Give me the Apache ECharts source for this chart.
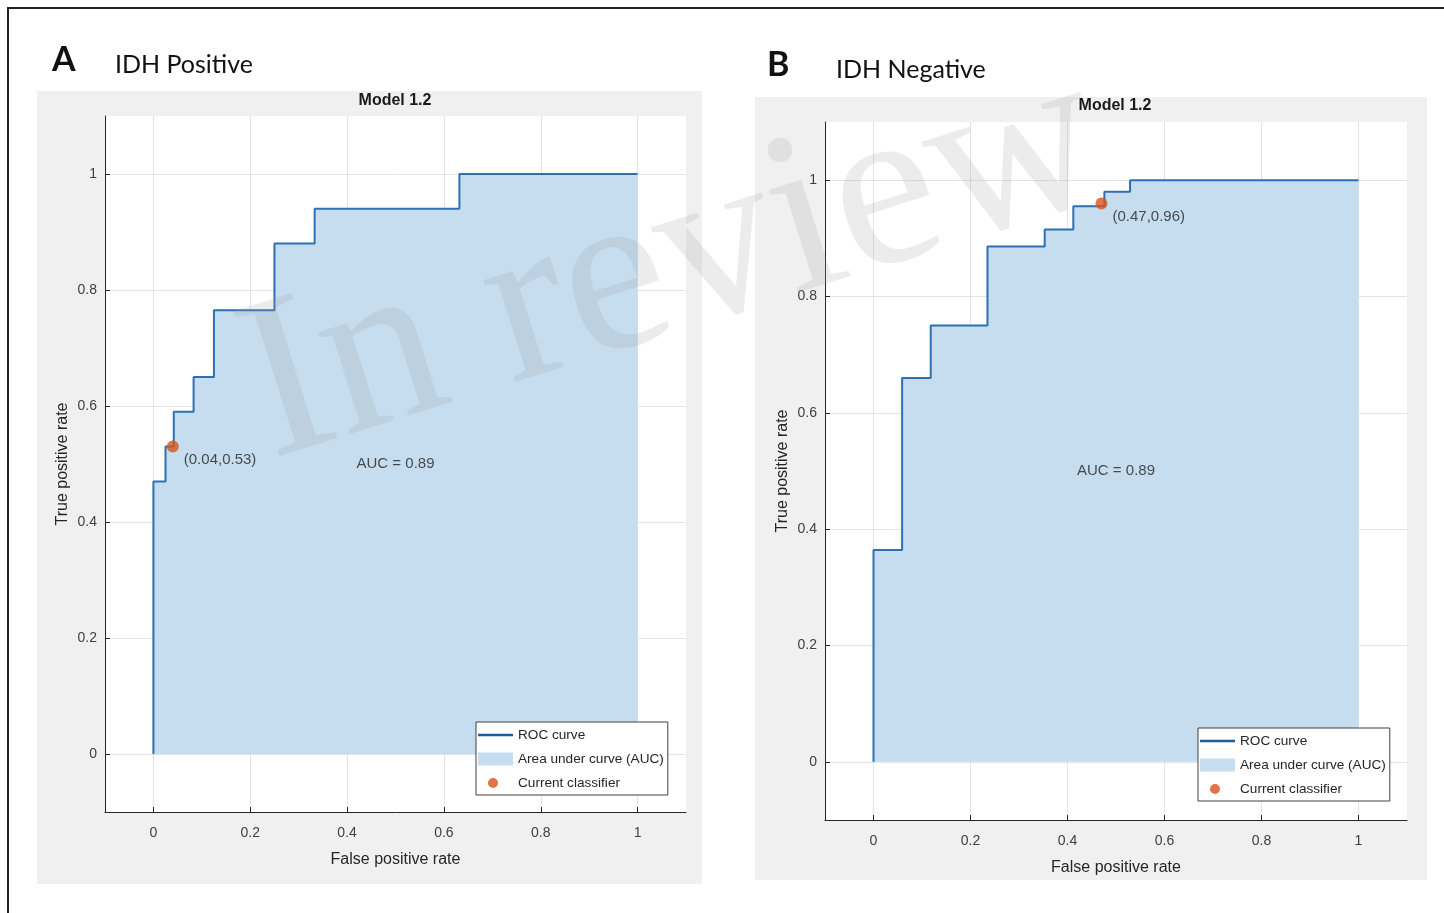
<!DOCTYPE html>
<html>
<head>
<meta charset="utf-8">
<script src="https://cdn.jsdelivr.net/npm/echarts@6/dist/echarts.min.js"></script>
<style>html,body{margin:0;padding:0;background:#fff;}#c{width:1444px;height:913px;}</style>
</head>
<body>
<div id="c"></div>
<script>
// ---- data ----
const tickValues = [0, 0.2, 0.4, 0.6, 0.8, 1];
const tickLabels = ['0', '0.2', '0.4', '0.6', '0.8', '1'];

// Panel A: IDH Positive
const posFPR = [0, 0, 0.025, 0.025, 0.042, 0.042, 0.083, 0.083, 0.125, 0.125, 0.25, 0.25, 0.333, 0.333, 0.632, 0.632, 1];
const posTPR = [0, 0.47, 0.47, 0.53, 0.53, 0.59, 0.59, 0.65, 0.65, 0.765, 0.765, 0.88, 0.88, 0.94, 0.94, 1, 1];
const posClassifier = [0.04, 0.53];
const posClassifierLabel = '(0.04,0.53)';
const posAUC = 'AUC = 0.89';

// Panel B: IDH Negative
const negFPR = [0, 0, 0.059, 0.059, 0.118, 0.118, 0.235, 0.235, 0.353, 0.353, 0.412, 0.412, 0.476, 0.476, 0.529, 0.529, 1];
const negTPR = [0, 0.364, 0.364, 0.66, 0.66, 0.75, 0.75, 0.886, 0.886, 0.915, 0.915, 0.955, 0.955, 0.98, 0.98, 1, 1];
const negClassifier = [0.47, 0.96];
const negClassifierLabel = '(0.47,0.96)';
const negAUC = 'AUC = 0.89';

const panelTitles = ['IDH Positive', 'IDH Negative'];
const panelLetters = ['A', 'B'];
const plotTitle = 'Model 1.2';
const legendNames = ['ROC curve', 'Area under curve (AUC)', 'Current classifier'];
const watermark = 'In review';

// ---- styling ----
const SANS = 'Liberation Sans, Arial, sans-serif';
const LINE = '#2f6fb3';
const FILL = '#c5ddef';
const DOT = '#d9531a';

function zip(a, b) { return a.map((v, i) => [v, b[i]]); }
function fmt(v) {
  for (let i = 0; i < tickValues.length; i++) if (Math.abs(v - tickValues[i]) < 1e-6) return tickLabels[i];
  return '';
}

function xAx(gi) {
  return {
    type: 'value', gridIndex: gi, min: -0.1, max: 1.1,
    name: 'False positive rate', nameLocation: 'middle', nameGap: 40,
    nameTextStyle: { fontSize: 16, color: '#262626', fontFamily: SANS },
    axisLine: { show: true, onZero: false, lineStyle: { color: '#262626', width: 1 } },
    axisTick: { show: true, inside: true, length: 5, customValues: tickValues, lineStyle: { color: '#262626' } },
    axisLabel: { customValues: tickValues, formatter: fmt, margin: 14, fontSize: 14, color: '#404040', fontFamily: SANS },
    splitLine: { show: true, lineStyle: { color: '#e3e3e3', width: 1 } }
  };
}
function yAx(gi) {
  return {
    type: 'value', gridIndex: gi, min: -0.1, max: 1.1,
    name: 'True positive rate', nameLocation: 'middle', nameGap: 34,
    nameTextStyle: { fontSize: 16, color: '#262626', fontFamily: SANS },
    axisLine: { show: true, onZero: false, lineStyle: { color: '#262626', width: 1 } },
    axisTick: { show: true, inside: true, length: 5, customValues: tickValues, lineStyle: { color: '#262626' } },
    axisLabel: { customValues: tickValues, formatter: fmt, margin: 8, fontSize: 14, color: '#404040', fontFamily: SANS },
    splitLine: { show: true, lineStyle: { color: '#e3e3e3', width: 1 } }
  };
}
function seriesFor(gi, fpr, tpr, cls, clsLabel, auc) {
  const d = zip(fpr, tpr);
  return [
    { name: legendNames[1], type: 'line', xAxisIndex: gi, yAxisIndex: gi, data: d, symbol: 'none',
      itemStyle: { color: FILL }, lineStyle: { width: 0, color: FILL }, areaStyle: { color: FILL, opacity: 1 }, z: 2, silent: true },
    { name: legendNames[0], type: 'line', xAxisIndex: gi, yAxisIndex: gi, data: d, symbol: 'none',
      itemStyle: { color: LINE }, lineStyle: { width: 2, color: LINE }, z: 3, silent: true },
    { name: legendNames[2], type: 'scatter', xAxisIndex: gi, yAxisIndex: gi, data: [cls], symbolSize: 12,
      itemStyle: { color: DOT }, z: 4,
      label: { show: true, position: 'right', distance: 5, offset: [0, 13], formatter: clsLabel,
        fontSize: 15, color: '#262626', fontFamily: SANS } },
    { name: 'aucText', type: 'scatter', xAxisIndex: gi, yAxisIndex: gi, data: [[0.5, 0.5]], symbolSize: 0,
      label: { show: true, position: 'inside', formatter: auc, fontSize: 15, color: '#262626', fontFamily: SANS }, z: 4, silent: true }
  ];
}
function legendFor(left, top) {
  return {
    left: left, top: top, orient: 'vertical', backgroundColor: '#fff', borderColor: '#404040', borderWidth: 1,
    padding: [6, 4, 5, 2], itemWidth: 35, itemHeight: 13, itemGap: 10, selectedMode: false,
    textStyle: { fontSize: 13.6, color: '#262626', fontFamily: SANS },
    data: [
      { name: legendNames[0], icon: 'path://M0,0L35,0L35,2.6L0,2.6Z', itemStyle: { color: '#1f5a9c' } },
      { name: legendNames[1], icon: 'rect', itemStyle: { color: FILL } },
      { name: legendNames[2], icon: 'path://M-7.5,0A5,5,0,1,1,2.5,0A5,5,0,1,1,-7.5,0ZM-17.5,-6.5L-17.49,-6.5ZM17.5,6.5L17.49,6.5Z', itemStyle: { color: DOT } }
    ]
  };
}

const chart = echarts.init(document.getElementById('c'), null, { renderer: 'canvas' });
chart.setOption({
  animation: false,
  backgroundColor: '#fff',
  grid: [
    { left: 105, top: 116, width: 581, height: 696, show: true, backgroundColor: '#fff', borderWidth: 0 },
    { left: 825, top: 122, width: 582, height: 698, show: true, backgroundColor: '#fff', borderWidth: 0 }
  ],
  xAxis: [xAx(0), xAx(1)],
  yAxis: [yAx(0), yAx(1)],
  legend: [legendFor(476, 722), legendFor(1198, 728)],
  series: [].concat(
    seriesFor(0, posFPR, posTPR, posClassifier, posClassifierLabel, posAUC),
    seriesFor(1, negFPR, negTPR, negClassifier, negClassifierLabel, negAUC)
  ),
  graphic: [
    { type: 'rect', z: -10, shape: { x: 37, y: 91, width: 665, height: 793 }, style: { fill: '#f0f0f0' }, silent: true },
    { type: 'rect', z: -10, shape: { x: 755, y: 97, width: 672, height: 783 }, style: { fill: '#f0f0f0' }, silent: true },
    { type: 'polyline', z: 50, shape: { points: [[8, 913], [8, 8], [1444, 8]] }, style: { stroke: '#222', lineWidth: 2, fill: null }, silent: true },
    { type: 'text', z: 50, x: 52, y: 60, style: { text: panelLetters[0], font: 'bold 34px Lato, sans-serif', fill: '#111', textVerticalAlign: 'middle' } },
    { type: 'text', z: 50, x: 115, y: 65, style: { text: panelTitles[0], font: '25px Lato, sans-serif', fill: '#111', textVerticalAlign: 'middle' } },
    { type: 'text', z: 50, x: 767, y: 65, style: { text: panelLetters[1], font: 'bold 34px Lato, sans-serif', fill: '#111', textVerticalAlign: 'middle' } },
    { type: 'text', z: 50, x: 836, y: 70, style: { text: panelTitles[1], font: '25px Lato, sans-serif', fill: '#111', textVerticalAlign: 'middle' } },
    { type: 'text', z: 50, x: 395, y: 101, style: { text: plotTitle, font: 'bold 16px Liberation Sans, Arial, sans-serif', fill: '#1a1a1a', textAlign: 'center', textVerticalAlign: 'middle' } },
    { type: 'text', z: 50, x: 1115, y: 106, style: { text: plotTitle, font: 'bold 16px Liberation Sans, Arial, sans-serif', fill: '#1a1a1a', textAlign: 'center', textVerticalAlign: 'middle' } },
    { type: 'text', z: 100, x: 218, y: 290, rotation: 17.5 * Math.PI / 180, silent: true,
      style: { text: watermark, font: '232px Liberation Serif, Times New Roman, serif', fill: 'rgba(160,160,160,0.2)', textVerticalAlign: 'top' } }
  ]
});
</script>
</body>
</html>
